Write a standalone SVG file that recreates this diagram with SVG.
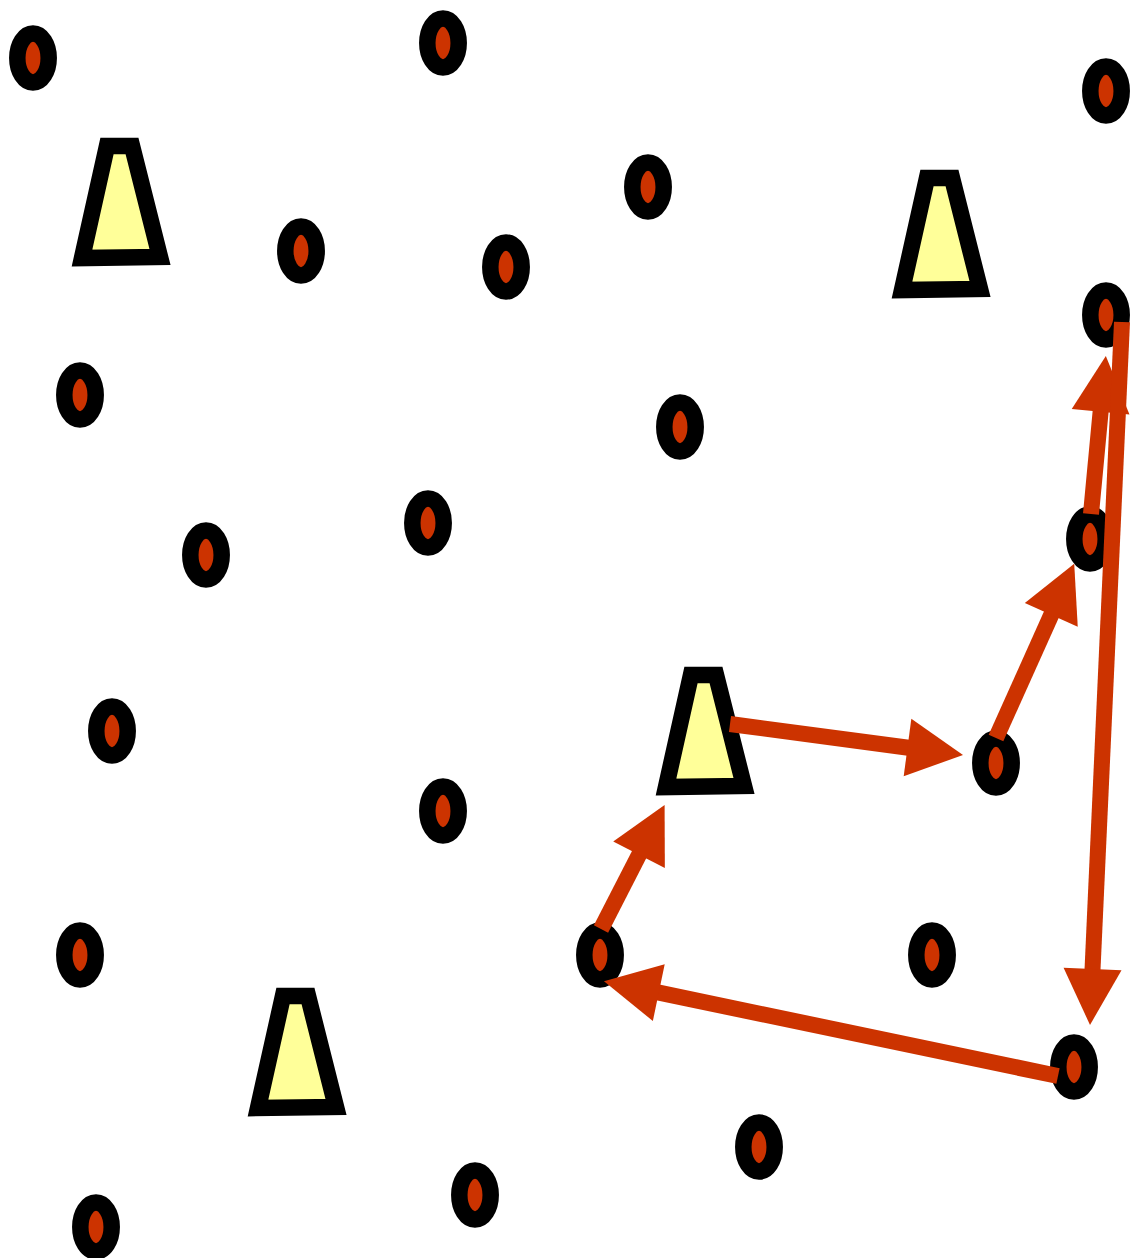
<svg xmlns="http://www.w3.org/2000/svg" width="1130" height="1258" viewBox="0 0 1130 1258">
<style>
.c{fill:#cc3300;stroke:#000;stroke-width:16.5}
.t{fill:#ffff99;stroke:#000;stroke-width:16.5;stroke-linejoin:miter}
.e{fill:none;stroke:#cc3300;stroke-width:16;marker-end:url(#ah)}
</style>
<defs>
<marker id="ah" markerUnits="userSpaceOnUse" orient="auto" markerWidth="60" markerHeight="60" refX="1" refY="29" overflow="visible">
<path d="M0,0 L56,29 L0,58 z" fill="#cc3300"/>
</marker>
<polygon id="trap" points="107,146 132,146 160,257 82,258"/>
<ellipse id="dot" cx="0" cy="0" rx="15.7" ry="24.5"/>
</defs>
<rect width="1130" height="1258" fill="#fff"/>
<g id="nodes">
<g id="t1"><use href="#trap" class="t"/></g>
<g id="t2"><use href="#trap" class="t" transform="translate(820,32)"/></g>
<g id="t3"><use href="#trap" class="t" transform="translate(584,529)"/></g>
<g id="t4"><use href="#trap" class="t" transform="translate(176,850)"/></g>
<g id="n1"><use href="#dot" class="c" x="33" y="58"/></g>
<g id="n2"><use href="#dot" class="c" x="443" y="43"/></g>
<g id="n3"><use href="#dot" class="c" x="1106" y="91"/></g>
<g id="n4"><use href="#dot" class="c" x="648" y="187"/></g>
<g id="n5"><use href="#dot" class="c" x="301" y="251"/></g>
<g id="n6"><use href="#dot" class="c" x="506" y="267"/></g>
<g id="n7"><use href="#dot" class="c" x="1106" y="315"/></g>
<g id="n8"><use href="#dot" class="c" x="80" y="395"/></g>
<g id="n9"><use href="#dot" class="c" x="680" y="427"/></g>
<g id="n10"><use href="#dot" class="c" x="428" y="523"/></g>
<g id="n11"><use href="#dot" class="c" x="206" y="555"/></g>
<g id="n12"><use href="#dot" class="c" x="1090" y="539"/></g>
<g id="n13"><use href="#dot" class="c" x="112" y="731"/></g>
<g id="n14"><use href="#dot" class="c" x="996" y="763"/></g>
<g id="n15"><use href="#dot" class="c" x="443" y="811"/></g>
<g id="n16"><use href="#dot" class="c" x="80" y="955"/></g>
<g id="n17"><use href="#dot" class="c" x="600" y="955"/></g>
<g id="n18"><use href="#dot" class="c" x="932" y="955"/></g>
<g id="n19"><use href="#dot" class="c" x="1074" y="1067"/></g>
<g id="n20"><use href="#dot" class="c" x="759" y="1147"/></g>
<g id="n21"><use href="#dot" class="c" x="475" y="1195"/></g>
<g id="n22"><use href="#dot" class="c" x="96" y="1227"/></g>
</g>
<g id="connectors">
<line class="e" x1="730" y1="724" x2="908.5" y2="747.7"/>
<line class="e" x1="996" y1="738" x2="1051.7" y2="613.9"/>
<line class="e" x1="1091" y1="514" x2="1100.7" y2="410.7"/>
<line class="e" x1="1122" y1="322" x2="1092.5" y2="970"/>
<line class="e" x1="1058" y1="1076" x2="657.8" y2="992.4"/>
<line class="e" x1="601" y1="929" x2="639.5" y2="853.9"/>
</g>
</svg>
